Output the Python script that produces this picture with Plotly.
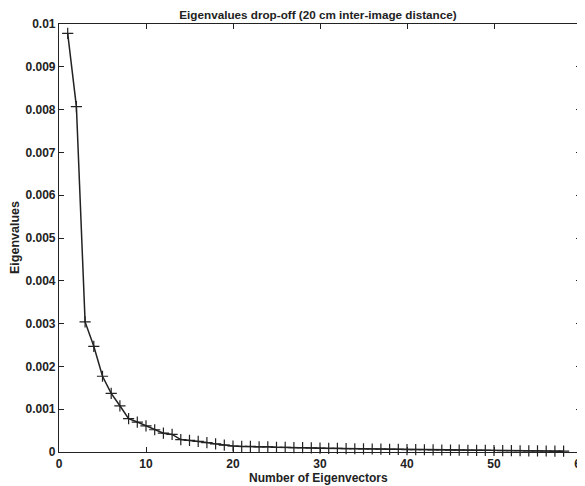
import plotly.graph_objects as go

eigen_index = list(range(1, 59))
eigenvalues = [
    0.00978, 0.00807, 0.00304, 0.00247, 0.00177, 0.00137, 0.00108, 0.00078,
    0.00070, 0.00061, 0.00052, 0.00044, 0.00041, 0.00029, 0.00027, 0.00025,
    0.00022, 0.00019, 0.00016, 0.00014, 0.00013, 0.00013, 0.00012, 0.00012,
    0.00011, 0.00011, 0.00010, 0.00010, 0.000095, 0.000090, 0.000087, 0.000083,
    0.000080, 0.000076, 0.000073, 0.000070, 0.000066, 0.000063, 0.000060, 0.000057,
    0.000054, 0.000052, 0.000050, 0.000047, 0.000045, 0.000043, 0.000041, 0.000039,
    0.000037, 0.000035, 0.000033, 0.000031, 0.000029, 0.000027, 0.000025, 0.000023,
    0.000021, 0.000019,
]
x_ticks = [0, 10, 20, 30, 40, 50, 60]
y_ticks = [0, 0.001, 0.002, 0.003, 0.004, 0.005, 0.006, 0.007, 0.008, 0.009, 0.01]
y_tick_labels = ["0", "0.001", "0.002", "0.003", "0.004", "0.005",
                 "0.006", "0.007", "0.008", "0.009", "0.01"]

font = "Liberation Sans, Arial, sans-serif"
ink = "#222"

# the page body adds an 8px offset, so the figure is drawn 8px smaller
OFF = 8
W, H = 585 - OFF, 486 - OFF
L, R, T, B = 59 - OFF, 4, 24 - OFF, 34
PW, PH = W - L - R, H - T - B

fig = go.Figure()
fig.add_trace(go.Scatter(
    x=eigen_index, y=eigenvalues, mode="lines+markers",
    line=dict(color=ink, width=1.5),
    marker=dict(symbol="cross-thin", size=8, line=dict(color=ink, width=1.2)),
    showlegend=False, cliponaxis=False,
))

fig.update_layout(
    width=W, height=H,
    margin=dict(l=L, r=R, t=T, b=B, autoexpand=False),
    paper_bgcolor="white", plot_bgcolor="white",
    title=dict(text="<b>Eigenvalues drop-off (20 cm inter-image distance)</b>",
               x=(318 - OFF) / W, xanchor="center", xref="container",
               y=1 - (15 - OFF) / H, yanchor="middle", yref="container",
               font=dict(family=font, size=11.7, color=ink)),
    font=dict(family=font, color=ink),
    annotations=[
        dict(text="<b>Number of Eigenvectors</b>", xref="paper", yref="paper",
             x=(318 - 59) / PW, y=-(478 - 452) / PH,
             xanchor="center", yanchor="middle", showarrow=False,
             font=dict(family=font, size=12, color=ink)),
        dict(text="<b>Eigenvalues</b>", xref="paper", yref="paper",
             x=-(59 - 15) / PW, y=0.5, textangle=-90,
             xanchor="center", yanchor="middle", showarrow=False,
             font=dict(family=font, size=12.5, color=ink)),
    ],
)
fig.update_xaxes(
    range=[0, 60], tickvals=x_ticks, ticktext=[f"<b>{v}</b>" for v in x_ticks],
    ticks="inside", ticklen=5, tickcolor=ink, showgrid=False, zeroline=False,
    showline=True, linecolor=ink, linewidth=1.2, mirror="ticks", automargin=False,
    ticklabeloverflow="allow",
    tickfont=dict(family=font, size=12, color=ink),
)
fig.update_yaxes(
    range=[0, 0.01], tickvals=y_ticks, ticktext=[f"<b>{t}</b>" for t in y_tick_labels],
    ticks="inside", ticklen=5, tickcolor=ink, showgrid=False, zeroline=False,
    showline=True, linecolor=ink, linewidth=1.2, mirror="ticks", automargin=False,
    ticklabeloverflow="allow",
    tickfont=dict(family=font, size=12, color=ink),
)

fig.write_html("out.html")
